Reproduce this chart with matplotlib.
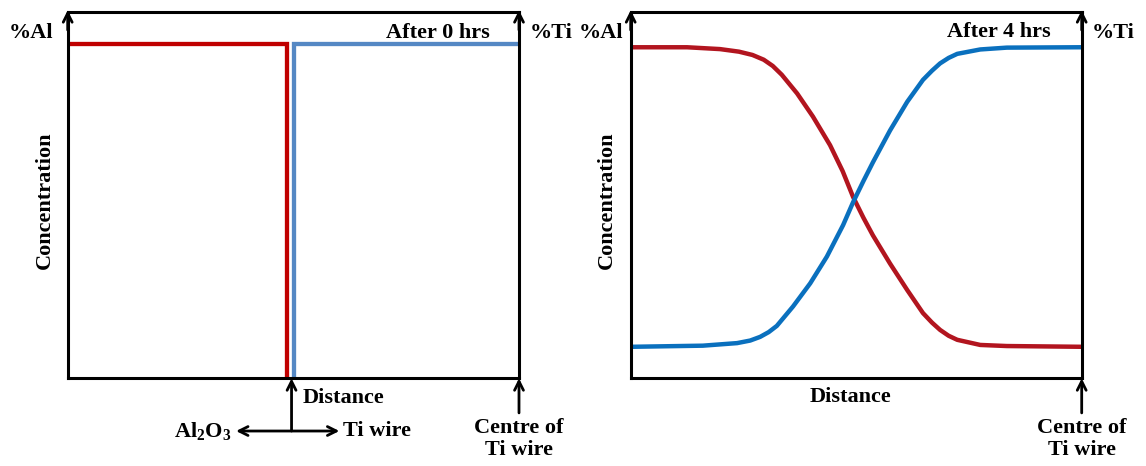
import matplotlib.pyplot as plt

plt.rcParams['font.family'] = ['Liberation Serif', 'DejaVu Serif']
plt.rcParams['font.weight'] = 'bold'
plt.rcParams['mathtext.fontset'] = 'custom'
plt.rcParams['mathtext.rm'] = 'Liberation Serif:bold'
plt.rcParams['mathtext.bf'] = 'Liberation Serif:bold'
plt.rcParams['mathtext.default'] = 'rm'

# --- data: concentration profiles (distance 0-100, concentration 0-100) ---
# after 0 hrs: sharp step at the interface
al_0h_x = [0.5, 48.5, 48.5]
al_0h_y = [91.1, 91.1, 0.6]
ti_0h_x = [50.2, 50.2, 99.8]
ti_0h_y = [0.6, 91.1, 91.1]

# after 4 hrs: diffused profiles
al_4h_x = [0.5, 12.5, 19.8, 24.0, 27.0, 29.5, 31.5, 33.5, 36.9, 40.4, 44.2, 47.0, 49.3,
           51.6, 53.7, 57.5, 61.3, 64.8, 66.8, 68.6, 70.5, 72.4, 77.5, 83.4, 99.6]
al_4h_y = [90.3, 90.3, 89.8, 89.1, 88.2, 86.9, 85.2, 82.8, 77.7, 71.4, 63.6, 56.5, 49.5,
           43.8, 39.0, 31.3, 24.1, 17.8, 15.2, 13.2, 11.6, 10.5, 9.1, 8.8, 8.6]
ti_4h_x = [0.5, 16.0, 23.6, 26.5, 28.7, 30.6, 32.4, 36.0, 39.8, 43.5, 47.1, 49.3,
           51.6, 53.7, 57.5, 61.3, 64.8, 66.8, 68.6, 70.5, 72.4, 77.5, 83.4, 99.6]
ti_4h_y = [8.6, 8.9, 9.6, 10.3, 11.3, 12.6, 14.3, 19.6, 25.9, 33.2, 41.8, 48.0,
           53.8, 58.9, 67.6, 75.4, 81.4, 83.9, 85.9, 87.4, 88.5, 89.7, 90.2, 90.3]

RED = '#C00000'
RED2 = '#B2151F'
BLUE = '#5588C4'
BLUE2 = '#0A70BE'
FS = 16

fig = plt.figure(figsize=(11.46, 4.66), dpi=100)
ax1 = fig.add_axes([67.7 / 1146, 87.7 / 466, 451.3 / 1146, 366.6 / 466])
ax2 = fig.add_axes([630.7 / 1146, 87.7 / 466, 451 / 1146, 366.6 / 466])

arrow = dict(arrowstyle='->', lw=2, color='black', mutation_scale=16, shrinkA=0, shrinkB=0)

for ax in (ax1, ax2):
    ax.set_xlim(0, 100)
    ax.set_ylim(0, 100)
    ax.set_xticks([])
    ax.set_yticks([])
    for s in ax.spines.values():
        s.set_linewidth(2.2)
    # arrowheads on the two vertical edges
    for xf in (0, 1):
        ax.annotate('', xy=(xf, 1.004), xytext=(xf, 0.95), xycoords='axes fraction',
                    arrowprops=arrow, annotation_clip=False)
    # centre of Ti wire arrow
    ax.annotate('', xy=(1, 0), xytext=(1, -0.0944), xycoords='axes fraction',
                arrowprops=arrow, annotation_clip=False)
    ax.text(1, -0.166, 'Centre of\nTi wire', transform=ax.transAxes, ha='center', va='center',
            fontsize=FS, linespacing=1.15)
    ax.text(1.023, 0.942, '%Ti', transform=ax.transAxes, ha='left', va='center', fontsize=FS)

# left panel
ax1.plot(al_0h_x, al_0h_y, color=RED, lw=3.1, solid_joinstyle='miter')
ax1.plot(ti_0h_x, ti_0h_y, color=BLUE, lw=3.1, solid_joinstyle='miter')
ax1.text(-0.033, 0.942, '%Al', transform=ax1.transAxes, ha='right', va='center', fontsize=FS)
ax1.text(-0.05, 0.486, 'Concentration', transform=ax1.transAxes, ha='center', va='center',
         rotation=90, fontsize=FS)
ax1.text(0.936, 0.942, 'After 0 hrs', transform=ax1.transAxes, ha='right', va='center', fontsize=FS)
ax1.annotate('', xy=(0.496, 0), xytext=(0.496, -0.1438), xycoords='axes fraction',
             arrowprops=arrow, annotation_clip=False)
ax1.annotate('', xy=(0.373, -0.1438), xytext=(0.602, -0.1438), xycoords='axes fraction',
             arrowprops=dict(arrow, arrowstyle='<->'), annotation_clip=False)
ax1.text(0.521, -0.0546, 'Distance', transform=ax1.transAxes, ha='left', va='center', fontsize=FS)
ax1.text(0.362, -0.1438, r'Al$_2$O$_3$', transform=ax1.transAxes, ha='right', va='center', fontsize=FS)
ax1.text(0.609, -0.1438, 'Ti wire', transform=ax1.transAxes, ha='left', va='center', fontsize=FS)

# right panel
ax2.plot(al_4h_x, al_4h_y, color=RED2, lw=3.2, solid_joinstyle='round')
ax2.plot(ti_4h_x, ti_4h_y, color=BLUE2, lw=3.2, solid_joinstyle='round')
ax2.text(-0.017, 0.942, '%Al', transform=ax2.transAxes, ha='right', va='center', fontsize=FS)
ax2.text(-0.052, 0.486, 'Concentration', transform=ax2.transAxes, ha='center', va='center',
         rotation=90, fontsize=FS)
ax2.text(0.93, 0.945, 'After 4 hrs', transform=ax2.transAxes, ha='right', va='center', fontsize=FS)
ax2.text(0.487, -0.051, 'Distance', transform=ax2.transAxes, ha='center', va='center', fontsize=FS)

fig.savefig('out.png', dpi=100)
